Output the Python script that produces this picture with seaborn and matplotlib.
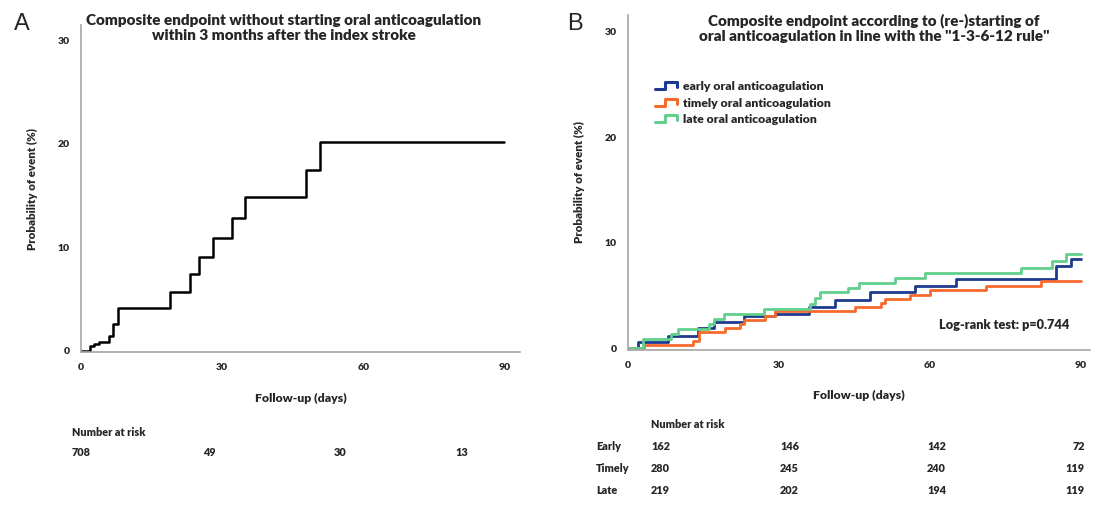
import matplotlib
matplotlib.use('Agg')
import matplotlib.pyplot as plt
import pandas as pd
import seaborn as sns
from matplotlib.lines import Line2D
from matplotlib.legend_handler import HandlerBase

sns.set_style('white')
plt.rcParams['font.family'] = ['Lato', 'DejaVu Sans']

# panel A: no oral anticoagulation
days_a = [0, 1.9, 2.8, 3.9, 6.0, 6.9, 7.9, 19, 23.1, 25, 28, 32, 34.8, 47.9, 50.8, 90]
pct_a = [0, 0.45, 0.68, 0.9, 1.4, 2.6, 4.1, 5.7, 7.4, 9.1, 10.9, 12.8, 14.9, 17.5, 20.2, 20.2]
risk_a = ['708', '49', '30', '13']

# panel B: 1-3-6-12 rule groups
days_early = [0, 2, 8, 14, 17, 23, 29.2, 36, 41.2, 48.1, 57, 65.2, 85.1, 88, 90]
pct_early = [0, 0.65, 1.2, 1.9, 2.5, 3.1, 3.3, 3.9, 4.6, 5.3, 5.95, 6.6, 7.8, 8.5, 8.5]
days_timely = [0, 3.2, 13, 14.1, 19.3, 22.3, 23.1, 27.2, 29.2, 45.1, 50.3, 51.1, 56.1, 60, 71.2, 82, 90]
pct_timely = [0, 0.36, 0.74, 1.6, 1.9, 2.3, 2.7, 3.1, 3.5, 3.9, 4.3, 4.7, 5.1, 5.5, 5.9, 6.4, 6.4]
days_late = [0, 3, 8.5, 10, 16, 17, 19.1, 27.1, 36.2, 37.2, 38.2, 43.8, 45.9, 53.1, 59, 78.1, 84.2, 87, 90]
pct_late = [0, 0.85, 1.4, 1.85, 2.3, 2.8, 3.3, 3.75, 4.2, 4.75, 5.3, 5.7, 6.2, 6.65, 7.1, 7.6, 8.3, 8.9, 8.9]

groups = ['early oral anticoagulation', 'timely oral anticoagulation', 'late oral anticoagulation']
row_labels = ['Early', 'Timely', 'Late']
risk_b = [['162', '146', '142', '72'],
          ['280', '245', '240', '119'],
          ['219', '202', '194', '119']]
colors = ['#1d3a8f', '#f76a2e', '#62cf8c']
x_ticks = [0, 30, 60, 90]
y_ticks = [0, 10, 20, 30]

W, H = 1096, 509
BOLD = 'heavy'


class StepHandler(HandlerBase):
    def create_artists(self, legend, orig_handle, xdescent, ydescent,
                       width, height, fontsize, trans):
        x0 = -xdescent
        y0 = -ydescent
        xs = [x0, x0 + 0.45 * width, x0 + 0.45 * width, x0 + width, x0 + width]
        ys = [y0 + 0.1 * height, y0 + 0.1 * height, y0 + 0.9 * height,
              y0 + 0.9 * height, y0 + 0.35 * height]
        line = Line2D(xs, ys, color=orig_handle.get_color(), lw=2.2, transform=trans)
        return [line]


def style_axes(ax):
    for side in ['top', 'right']:
        ax.spines[side].set_visible(False)
    for side in ['left', 'bottom']:
        ax.spines[side].set_color('#a6a6a6')
        ax.spines[side].set_linewidth(1.2)
    ax.set_xticks(x_ticks)
    ax.set_yticks(y_ticks)
    ax.tick_params(direction='out', length=5, width=1, color='#a6a6a6',
                   labelsize=7.5, pad=3)
    for lab in ax.get_xticklabels() + ax.get_yticklabels():
        lab.set_fontweight(BOLD)
    ax.set_xlabel('Follow-up (days)', fontsize=8.8, fontweight=BOLD, labelpad=15)
    ax.set_ylabel('Probability of event (%)', fontsize=8.3, fontweight=BOLD, labelpad=14)


fig = plt.figure(figsize=(W / 100, H / 100), dpi=100)

# panel A
ax_a = fig.add_axes([81 / W, (H - 352) / H, (520 - 81) / W, (352 - 25) / H])
df_a = pd.DataFrame({'day': days_a, 'pct': pct_a})
sns.lineplot(data=df_a, x='day', y='pct', drawstyle='steps-post', color='black',
             lw=1.8, estimator=None, ax=ax_a)
ax_a.set_xlim(0, 93.3)
ax_a.set_ylim(-0.1, 31.45)
style_axes(ax_a)

# panel B
ax_b = fig.add_axes([628 / W, (H - 349.5) / H, (1090 - 628) / W, (349.5 - 15) / H])
df_b = pd.concat([
    pd.DataFrame({'day': days_early, 'pct': pct_early, 'group': groups[0]}),
    pd.DataFrame({'day': days_timely, 'pct': pct_timely, 'group': groups[1]}),
    pd.DataFrame({'day': days_late, 'pct': pct_late, 'group': groups[2]}),
])
sns.lineplot(data=df_b, x='day', y='pct', hue='group', hue_order=groups,
             palette=colors, drawstyle='steps-post', lw=2, estimator=None,
             ax=ax_b, legend=False)
ax_b.set_xlim(0, 91.8)
ax_b.set_ylim(-0.1, 31.55)
style_axes(ax_b)

handles = [Line2D([], [], color=c) for c in colors]
leg = ax_b.legend(handles, groups, loc='upper left', bbox_to_anchor=(0.035, 0.835),
                  frameon=False, handler_map={Line2D: StepHandler()},
                  handlelength=1.8, handletextpad=0.45, labelspacing=0.45,
                  prop={'size': 8.8, 'weight': BOLD})

ax_b.text(1004 / W, (H - 325) / H, 'Log-rank test: p=0.744', transform=fig.transFigure,
          ha='center', va='center', fontsize=9.2, fontweight=BOLD)

# titles and panel letters
fig.text(284 / W, (H - 28) / H,
         'Composite endpoint without starting oral anticoagulation\nwithin 3 months after the index stroke',
         ha='center', va='center', fontsize=11, fontweight=BOLD, linespacing=1.2)
fig.text(874 / W, (H - 28) / H,
         'Composite endpoint according to (re-)starting of\noral anticoagulation in line with the "1-3-6-12 rule"',
         ha='center', va='center', fontsize=11, fontweight=BOLD, linespacing=1.2)
fig.text(22 / W, (H - 24) / H, 'A', ha='center', va='center', fontsize=17,
         family=['Liberation Sans', 'DejaVu Sans'])
fig.text(575 / W, (H - 24) / H, 'B', ha='center', va='center', fontsize=17,
         family=['Liberation Sans', 'DejaVu Sans'])

# number at risk, panel A
fig.text(72 / W, (H - 432) / H, 'Number at risk', ha='left', va='center',
         fontsize=7.8, fontweight=BOLD)
for xp, val in zip([72, 203, 334, 455], risk_a):
    fig.text(xp / W, (H - 453) / H, val, ha='left', va='center',
             fontsize=7.8, fontweight=BOLD)

# number at risk, panel B
fig.text(651 / W, (H - 425) / H, 'Number at risk', ha='left', va='center',
         fontsize=7.8, fontweight=BOLD)
for i, (lab, row) in enumerate(zip(row_labels, risk_b)):
    yp = (H - (447 + 22 * i)) / H
    fig.text(596 / W, yp, lab, ha='left', va='center', fontsize=7.8, fontweight=BOLD)
    for xp, val in zip([651, 780, 927, 1085], row):
        ha = 'right' if xp > 1000 else 'left'
        fig.text(xp / W, yp, val, ha=ha, va='center', fontsize=7.8, fontweight=BOLD)

fig.savefig('out.png', dpi=100)
